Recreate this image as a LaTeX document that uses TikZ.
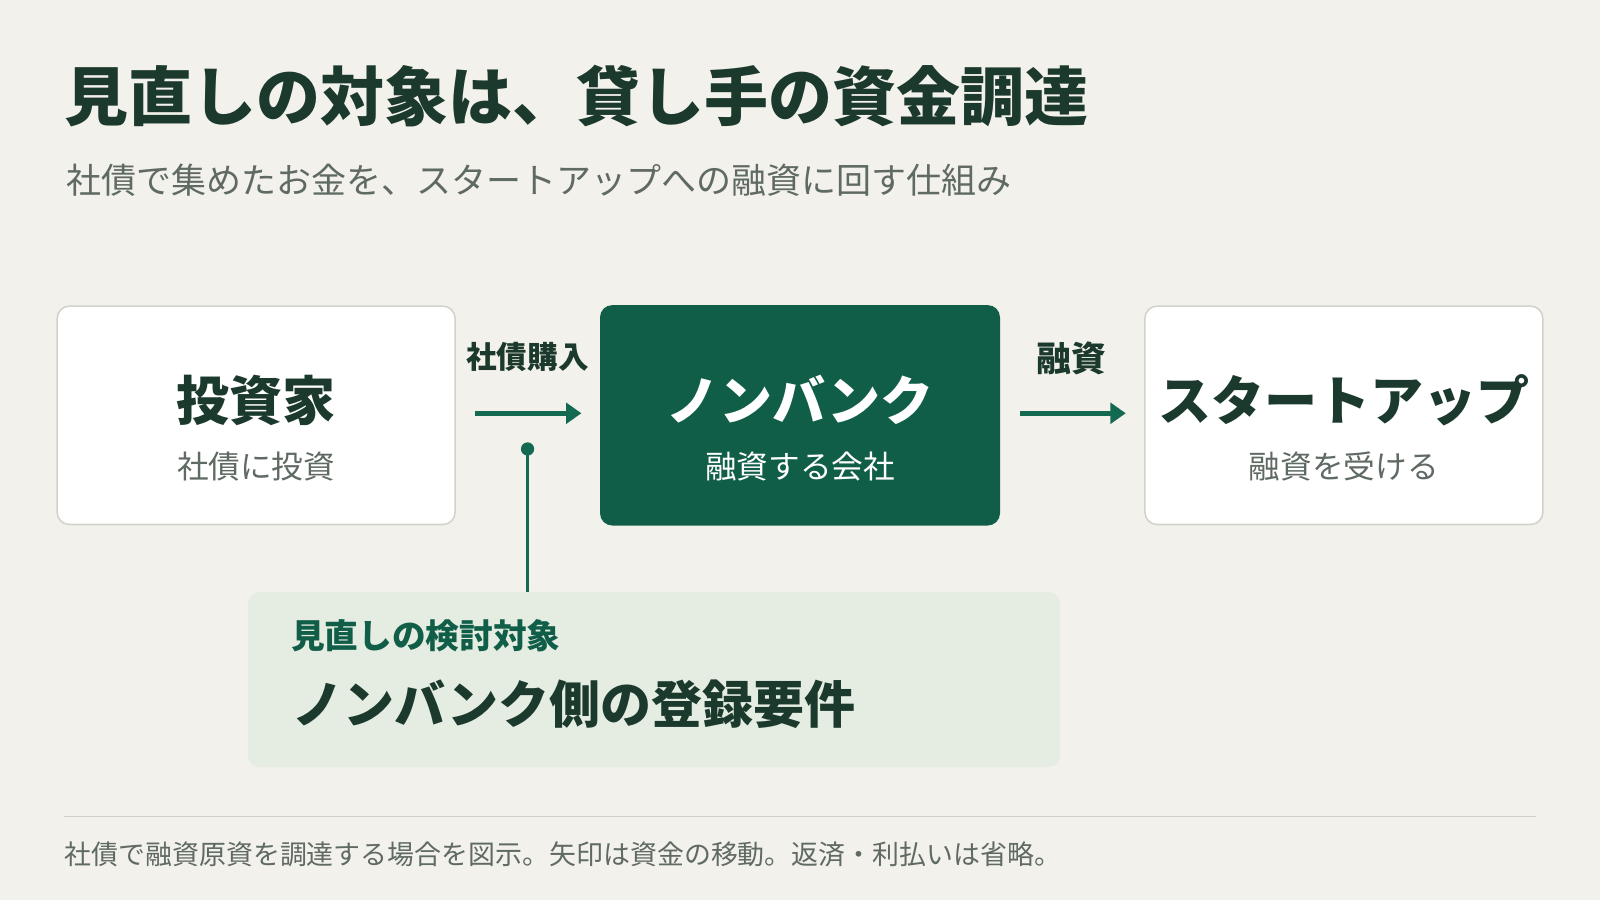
\documentclass[tikz,border=0pt]{standalone}
\usepackage{fontspec}
\setmainfont{Noto Sans CJK JP}
\usetikzlibrary{arrows.meta}
\definecolor{bgc}{HTML}{F3F1EB}
\definecolor{ink}{HTML}{1B3A2D}
\definecolor{grn}{HTML}{115E48}
\definecolor{agrn}{HTML}{146A51}
\definecolor{lgrn}{HTML}{E5ECE2}
\definecolor{gry}{HTML}{5F6A63}
\definecolor{bord}{HTML}{D2D2CB}
\definecolor{sep}{HTML}{CDD3CB}
\newcommand{\fs}[1]{\fontsize{#1}{#1}\selectfont}
\tikzset{
  whitebox/.style={draw=bord, line width=1.5pt, fill=white, rounded corners=12pt, minimum width=390pt, minimum height=214pt, inner sep=0},
  darkbox/.style={fill=grn, rounded corners=12pt, minimum width=392pt, minimum height=216pt, inner sep=0},
  maintxt/.style={font=\fs{52}\bfseries, text=ink, inner sep=0},
  subtxt/.style={font=\fs{31}, text=gry, inner sep=0},
  arlabel/.style={font=\fs{30}\bfseries, text=ink, inner sep=0},
  flow/.style={draw=agrn, line width=5pt, -{Triangle[length=15pt,width=20pt]}, shorten <=19pt, shorten >=18pt}
}
\begin{document}
\begin{tikzpicture}[x=1pt,y=-1pt]
\useasboundingbox[fill=bgc] (0,0) rectangle (1568,882);
% title
\node[anchor=west, inner sep=0, font=\fs{62.7}\bfseries, text=ink] (title) at (63,94) {見直しの対象は、貸し手の資金調達};
\node[anchor=west, inner sep=0, font=\fs{34.3}, text=gry] (subtitle) at (65,177) {社債で集めたお金を、スタートアップへの融資に回す仕組み};
% boxes
\node[whitebox] (inv) at (251,407) {};
\node[darkbox] (nb) at (784,407) {};
\node[whitebox] (st) at (1317,407) {};
\node[maintxt] (invt) at (251,392) {投資家};
\node[subtxt] (invs) at (251,457) {社債に投資};
\node[maintxt, text=white] (nbt) at (784,392) {ノンバンク};
\node[subtxt, text=white] (nbs) at (784,457) {融資する会社};
\node[maintxt] (stt) at (1317,392) {スタートアップ};
\node[subtxt] (sts) at (1317,457) {融資を受ける};
% arrows
\draw[flow] (inv.east |- 0,405) -- (nb.west |- 0,405);
\draw[flow] (nb.east |- 0,405) -- (st.west |- 0,405);
\node[arlabel] (l1) at (517,350) {社債購入};
\node[arlabel, font=\fs{34}\bfseries] (l2) at (1050,351) {融資};
% lower box
\node[fill=lgrn, rounded corners=12pt, minimum width=796pt, minimum height=172pt, inner sep=0] (lb) at (641,666) {};
\node[anchor=west, inner sep=0, font=\fs{33}\bfseries, text=grn] (lbt) at (285,623) {見直しの検討対象};
\node[anchor=west, inner sep=0, font=\fs{50}\bfseries, text=ink] (lbm) at (286,690) {ノンバンク側の登録要件};
\node[circle, fill=agrn, inner sep=0, minimum size=13pt] (dot) at (517,440) {};
\draw[agrn, line width=3pt] (dot.center) -- (dot.center |- lb.north);
% separator and footnote
\coordinate (s1) at (63,800);
\coordinate (s2) at (1505,800);
\draw[sep, line width=1.5pt] (s1) -- (s2);
\node[anchor=west, inner sep=0, font=\fs{26.4}, text=gry] (foot) at (63,837) {社債で融資原資を調達する場合を図示。矢印は資金の移動。返済・利払いは省略。};
\end{tikzpicture}
\end{document}
